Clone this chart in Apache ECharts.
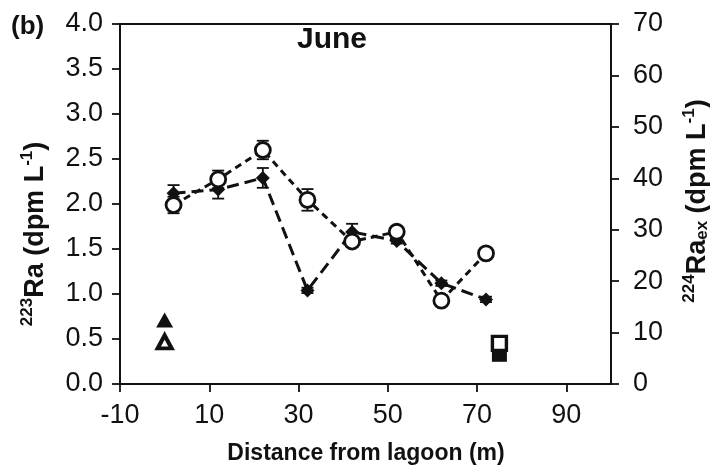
<!DOCTYPE html>
<html>
<head>
<meta charset="utf-8">
<script src="https://cdn.jsdelivr.net/npm/echarts@6/dist/echarts.min.js"></script>
<style>
  html, body { margin: 0; padding: 0; background: #fff; }
  #chart { width: 710px; height: 472px; }
</style>
</head>
<body>
<div id="chart"></div>
<script>
// Distance from the lagoon (m) of the sampling stations
const distance = [2, 12, 22, 32, 42, 52, 62, 72];
// 223Ra activity (dpm/L), left axis
const ra223 = [2.12, 2.16, 2.29, 1.04, 1.69, 1.59, 1.12, 0.94];
const ra223Err = [0.09, 0.10, 0.11, 0.03, 0.09, 0.03, 0.03, 0.03];
// excess 224Ra activity (dpm/L), right axis
const ra224 = [34.8, 39.8, 45.5, 35.8, 27.7, 29.6, 16.2, 25.4];
const ra224Err = [1.6, 1.7, 1.8, 2.1, 1.0, 0.8, 0.5, 0.5];
// Lagoon water end-member
const lagoonX = [0];
const lagoon223 = [0.71];
const lagoon224 = [8.2];
// Offshore end-member
const seaX = [75];
const sea223 = [0.33];
const sea224 = [7.9];

const xTicks = [-10, 10, 30, 50, 70, 90];
const FONT = 'Liberation Sans, Arial, sans-serif';
const INK = '#111';

function pairs(xs, ys) { return xs.map((x, i) => [x, ys[i]]); }
function errData(xs, ys, es) { return xs.map((x, i) => [x, ys[i] - es[i], ys[i] + es[i]]); }

function errorBars(api) {
  const lo = api.coord([api.value(0), api.value(1)]);
  const hi = api.coord([api.value(0), api.value(2)]);
  const w = 6;
  const style = { stroke: INK, lineWidth: 1.8 };
  return {
    type: 'group',
    children: [
      { type: 'line', shape: { x1: lo[0], y1: lo[1], x2: hi[0], y2: hi[1] }, style },
      { type: 'line', shape: { x1: lo[0] - w, y1: lo[1], x2: lo[0] + w, y2: lo[1] }, style },
      { type: 'line', shape: { x1: hi[0] - w, y1: hi[1], x2: hi[0] + w, y2: hi[1] }, style }
    ]
  };
}

const chart = echarts.init(document.getElementById('chart'), null, { renderer: 'canvas' });

const axisLine = { onZero: false, lineStyle: { color: INK, width: 1.8 } };
const axisTick = { length: 8, lineStyle: { color: INK, width: 1.8 } };
const labelStyle = { color: INK, fontSize: 27, fontFamily: FONT };

chart.setOption({
  backgroundColor: '#fff',
  animation: false,
  grid: {
    left: 120, right: 99, top: 24, bottom: 88,
    show: true, borderColor: INK, borderWidth: 1.8, backgroundColor: 'transparent'
  },
  xAxis: {
    type: 'value', min: -10, max: 100,
    axisLine, splitLine: { show: false },
    axisTick: Object.assign({ customValues: xTicks }, axisTick),
    axisLabel: Object.assign({ customValues: xTicks, margin: 18 }, labelStyle)
  },
  yAxis: [
    {
      type: 'value', min: 0, max: 4, interval: 0.5, position: 'left',
      axisLine: Object.assign({ show: true }, axisLine), axisTick, splitLine: { show: false },
      axisLabel: Object.assign({ margin: 17, formatter: v => v.toFixed(1) }, labelStyle)
    },
    {
      type: 'value', min: 0, max: 70, interval: 10, position: 'right',
      axisLine: Object.assign({ show: true }, axisLine), axisTick, splitLine: { show: false },
      axisLabel: Object.assign({ margin: 22 }, labelStyle)
    }
  ],
  series: [
    {
      type: 'custom', yAxisIndex: 0, z: 2,
      renderItem: (p, api) => errorBars(api),
      data: errData(distance, ra223, ra223Err)
    },
    {
      type: 'custom', yAxisIndex: 1, z: 2,
      renderItem: (p, api) => errorBars(api),
      data: errData(distance, ra224, ra224Err)
    },
    {
      name: '223Ra', type: 'line', yAxisIndex: 0, z: 3,
      data: pairs(distance, ra223),
      symbol: 'diamond', symbolSize: 14, showAllSymbol: true,
      itemStyle: { color: INK, opacity: 1 },
      lineStyle: { color: INK, width: 3, type: [12, 6] }
    },
    {
      name: '224Ra', type: 'line', yAxisIndex: 1, z: 4,
      data: pairs(distance, ra224),
      symbol: 'circle', symbolSize: 15, showAllSymbol: true,
      itemStyle: { color: '#fff', borderColor: INK, borderWidth: 2.8, opacity: 1 },
      lineStyle: { color: INK, width: 3, type: [7, 5] }
    },
    {
      type: 'scatter', yAxisIndex: 0, z: 3,
      data: pairs(lagoonX, lagoon223),
      symbol: 'triangle', symbolSize: [17, 15],
      itemStyle: { color: INK, opacity: 1 }
    },
    {
      type: 'scatter', yAxisIndex: 1, z: 3,
      data: pairs(lagoonX, lagoon224),
      symbol: 'triangle', symbolSize: [14, 13],
      itemStyle: { color: '#fff', borderColor: INK, borderWidth: 4, opacity: 1 }
    },
    {
      type: 'scatter', yAxisIndex: 0, z: 3,
      data: pairs(seaX, sea223),
      symbol: 'rect', symbolSize: 15,
      itemStyle: { color: INK, opacity: 1 }
    },
    {
      type: 'scatter', yAxisIndex: 1, z: 4,
      data: pairs(seaX, sea224),
      symbol: 'rect', symbolSize: 14,
      itemStyle: { color: '#fff', borderColor: INK, borderWidth: 3.4, opacity: 1 }
    }
  ],
  graphic: [
    {
      type: 'text', x: 11, y: 27,
      style: { text: '(b)', font: 'bold 26px ' + FONT, fill: INK, textAlign: 'left', textVerticalAlign: 'middle' }
    },
    {
      type: 'text', x: 332, y: 40,
      style: { text: 'June', font: 'bold 30px ' + FONT, fill: INK, textAlign: 'center', textVerticalAlign: 'middle' }
    },
    {
      type: 'text', x: 366, y: 454,
      style: { text: 'Distance from lagoon (m)', font: 'bold 23px ' + FONT, fill: INK, textAlign: 'center', textVerticalAlign: 'middle' }
    },
    {
      type: 'text', x: 34, y: 234, rotation: Math.PI / 2,
      style: {
        text: '{sup|223}{b|Ra (dpm L}{sup|-1}{b|)}',
        fill: INK, textAlign: 'center', textVerticalAlign: 'middle',
        rich: {
          b: { fontSize: 27, fontWeight: 'bold', fontFamily: FONT, fill: INK, lineHeight: 30, verticalAlign: 'bottom' },
          sup: { fontSize: 17, fontWeight: 'bold', fontFamily: FONT, fill: INK, lineHeight: 30, verticalAlign: 'top', padding: [0, 0, 10, 0] }
        }
      }
    },
    {
      type: 'text', x: 696, y: 201, rotation: Math.PI / 2,
      style: {
        text: '{sup|224}{b|Ra}{sub|ex}{b| (dpm L}{sup|-1}{b|)}',
        fill: INK, textAlign: 'center', textVerticalAlign: 'middle',
        rich: {
          b: { fontSize: 27, fontWeight: 'bold', fontFamily: FONT, fill: INK, lineHeight: 30, verticalAlign: 'bottom' },
          sup: { fontSize: 17, fontWeight: 'bold', fontFamily: FONT, fill: INK, lineHeight: 30, verticalAlign: 'top', padding: [0, 0, 10, 0] },
          sub: { fontSize: 17, fontWeight: 'bold', fontFamily: FONT, fill: INK, lineHeight: 30, verticalAlign: 'bottom', padding: [8, 0, 0, 0] }
        }
      }
    }
  ]
});
</script>
</body>
</html>
